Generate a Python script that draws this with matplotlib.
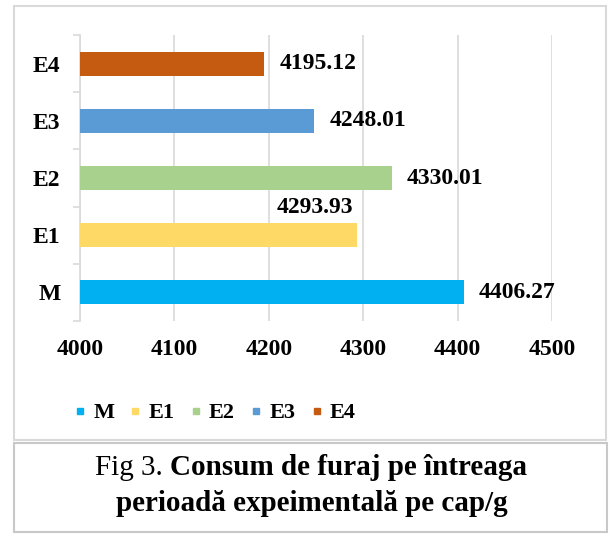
import matplotlib
matplotlib.use("Agg")
import matplotlib.pyplot as plt
from matplotlib.lines import Line2D
from matplotlib.patches import Rectangle

plt.rcParams['font.family'] = ['Liberation Serif', 'DejaVu Serif']

# feed consumption per head (g), whole experimental period
groups = ['M', 'E1', 'E2', 'E3', 'E4']
consum = [4406.27, 4293.93, 4330.01, 4248.01, 4195.12]
colors = ['#00B0F0', '#FFD966', '#A9D18E', '#5B9BD5', '#C55A11']
x_ticks = [4000, 4100, 4200, 4300, 4400, 4500]

W, H = 610, 542
fig = plt.figure(figsize=(W / 100, H / 100), dpi=100)

def fx(px):
    return px / W

def fy(py):
    return 1 - py / H

# frames around the chart and the caption
fig.patches.append(Rectangle((fx(14), fy(440)), fx(606) - fx(14), fy(6) - fy(440),
                             transform=fig.transFigure, fill=False,
                             edgecolor='#D9D9D9', linewidth=1.5))
fig.patches.append(Rectangle((fx(14), fy(532)), fx(607) - fx(14), fy(443) - fy(532),
                             transform=fig.transFigure, fill=False,
                             edgecolor='#C8C8C8', linewidth=1.5))

ax = fig.add_axes([fx(80), fy(321), fx(552) - fx(80), fy(35) - fy(321)])
ypos = list(range(len(groups)))
ax.barh(ypos, [v - 4000 for v in consum], left=4000, height=0.42, color=colors, zorder=3)

ax.set_xlim(4000, 4500)
ax.set_ylim(-0.5, len(groups) - 0.5)
ax.set_xticks(x_ticks)
ax.set_xticklabels([str(t) for t in x_ticks], fontsize=17, fontweight='bold')
ax.set_yticks(ypos)
ax.set_yticklabels(groups, fontsize=17, fontweight='bold')
ax.tick_params(axis='x', length=0, pad=13)
ax.tick_params(axis='y', length=0, pad=14)
# small ticks on the category axis between groups
ax.set_yticks([i - 0.5 for i in range(len(groups) + 1)], minor=True)
ax.tick_params(axis='y', which='minor', length=5, color='#D9D9D9', width=1.2)
ax.grid(axis='x', color='#D9D9D9', linewidth=1.2, zorder=0)
for side in ['top', 'right', 'bottom']:
    ax.spines[side].set_visible(False)
ax.spines['left'].set_color('#D9D9D9')
ax.spines['left'].set_linewidth(1.2)
ax.set_facecolor('none')

for i, v in enumerate(consum):
    if groups[i] == 'E1':
        ax.annotate(f'{v:.2f}', xy=(v, i), xytext=(-31, 20), textcoords='offset points',
                    ha='center', va='center', fontsize=17, fontweight='bold')
    else:
        ax.annotate(f'{v:.2f}', xy=(v, i), xytext=(11, 0), textcoords='offset points',
                    ha='left', va='center', fontsize=17, fontweight='bold')

handles = [Line2D([], [], marker='s', linestyle='none', markersize=5,
                  markerfacecolor=c, markeredgecolor=c) for c in colors]
fig.legend(handles, groups, loc='center', bbox_to_anchor=(fx(215), fy(413)),
           ncol=5, frameon=False, prop={'size': 16, 'weight': 'bold'},
           handlelength=0.5, handletextpad=0.35, columnspacing=0.7)

# caption: "Fig 3." in regular weight, the rest in bold
renderer = fig.canvas.get_renderer()
cap_size = 21
t1 = fig.text(0, fy(475), 'Fig 3. ', fontsize=cap_size, ha='left', va='baseline')
t2 = fig.text(0, fy(475), 'Consum de furaj pe întreaga', fontsize=cap_size,
              fontweight='bold', ha='left', va='baseline')
w1 = t1.get_window_extent(renderer).width
w2 = t2.get_window_extent(renderer).width
x0 = (311 - (w1 + w2) / 2)
t1.set_x(fx(x0))
t2.set_x(fx(x0 + w1))
fig.text(fx(312), fy(511), 'perioadă expeimentală pe cap/g', fontsize=cap_size,
         fontweight='bold', ha='center', va='baseline')

fig.savefig('out.png', dpi=100)
